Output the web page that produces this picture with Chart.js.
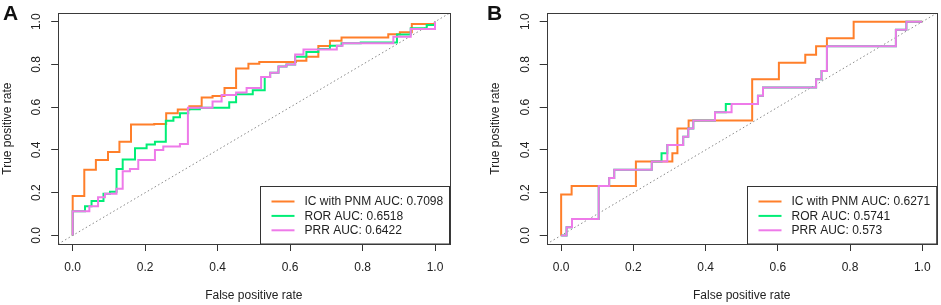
<!DOCTYPE html>
<html>
<head>
<meta charset="utf-8">
<script src="https://cdn.jsdelivr.net/npm/chart.js@4.4.1/dist/chart.umd.min.js"></script>
<style>
  body { margin: 0; background: #fff; }
  #wrap { position: relative; width: 941px; height: 305px; overflow: hidden; background: #fff; }
  canvas { position: absolute; top: 0; }
  #chartA { left: 0; }
  #chartB { left: 488px; }
  .tag { position: absolute; top: 1px; font: bold 21px "Liberation Sans", Arial, sans-serif; color: #111; }
</style>
</head>
<body>
<div id="wrap">
  <canvas id="chartA" width="470" height="305"></canvas>
  <canvas id="chartB" width="453" height="305"></canvas>
  <div class="tag" style="left:3px">A</div>
  <div class="tag" style="left:487px">B</div>
</div>
<script>
// axis setup (R style, 4% extension)
const axisMin = -0.04, axisMax = 1.04;
const tickVals = [0, 0.2, 0.4, 0.6, 0.8, 1.0];
const tickLabels = ['0.0', '0.2', '0.4', '0.6', '0.8', '1.0'];
const lineColors = ['#FF7F2A', '#00EE76', '#EE7AE9'];

// Panel A - ROC points (end of each horizontal run)
const fprA_ic  = [0, 0.032, 0.064, 0.0975, 0.129, 0.161, 0.225, 0.258, 0.290, 0.322, 0.356, 0.386, 0.419, 0.451, 0.485, 0.515, 0.616, 0.645, 0.678, 0.710, 0.742, 0.871, 0.903, 0.936, 1.0, 1.0];
const tprA_ic  = [0, 0.185, 0.307, 0.353, 0.390, 0.438, 0.519, 0.522, 0.572, 0.589, 0.605, 0.646, 0.653, 0.690, 0.781, 0.803, 0.812, 0.818, 0.836, 0.886, 0.911, 0.926, 0.941, 0.951, 0.990, 1.0];
const fprA_ror = [0, 0.034, 0.052, 0.085, 0.103, 0.121, 0.138, 0.172, 0.204, 0.227, 0.257, 0.278, 0.296, 0.319, 0.351, 0.432, 0.451, 0.497, 0.530, 0.545, 0.568, 0.590, 0.614, 0.645, 0.678, 0.710, 0.742, 0.795, 0.895, 0.933, 0.977, 1.0, 1.0];
const tprA_ror = [0, 0.113, 0.137, 0.161, 0.195, 0.205, 0.311, 0.355, 0.408, 0.426, 0.438, 0.537, 0.553, 0.572, 0.590, 0.598, 0.623, 0.661, 0.680, 0.742, 0.761, 0.791, 0.800, 0.836, 0.858, 0.873, 0.888, 0.899, 0.903, 0.940, 0.970, 0.985, 1.0];
const fprA_prr = [0, 0.046, 0.070, 0.089, 0.121, 0.138, 0.158, 0.181, 0.227, 0.250, 0.296, 0.318, 0.386, 0.411, 0.451, 0.480, 0.520, 0.545, 0.568, 0.590, 0.614, 0.637, 0.729, 0.745, 0.885, 0.933, 1.0, 1.0];
const tprA_prr = [0, 0.113, 0.137, 0.179, 0.195, 0.218, 0.300, 0.311, 0.353, 0.400, 0.416, 0.428, 0.598, 0.627, 0.657, 0.669, 0.690, 0.742, 0.761, 0.791, 0.800, 0.847, 0.870, 0.888, 0.899, 0.930, 0.966, 1.0];
const legendA = ['IC with PNM AUC: 0.7098', 'ROR AUC: 0.6518', 'PRR AUC: 0.6422'];

// Panel B
const fprB_ic  = [0, 0.029, 0.207, 0.308, 0.322, 0.353, 0.529, 0.603, 0.676, 0.706, 0.736, 0.810, 1.0];
const tprB_ic  = [0, 0.192, 0.231, 0.346, 0.385, 0.500, 0.538, 0.731, 0.808, 0.846, 0.885, 0.923, 1.0];
const fprB_ror = [0, 0.015, 0.030, 0.104, 0.133, 0.147, 0.251, 0.278, 0.294, 0.338, 0.352, 0.366, 0.426, 0.456, 0.545, 0.559, 0.706, 0.721, 0.736, 0.927, 0.956, 1.0];
const tprB_ror = [0, 0, 0.038, 0.077, 0.231, 0.269, 0.308, 0.346, 0.385, 0.423, 0.462, 0.500, 0.538, 0.577, 0.615, 0.654, 0.692, 0.731, 0.769, 0.885, 0.962, 1.0];
const fprB_prr = [0, 0.015, 0.030, 0.104, 0.133, 0.147, 0.251, 0.294, 0.338, 0.352, 0.366, 0.426, 0.472, 0.545, 0.559, 0.706, 0.721, 0.736, 0.927, 0.956, 1.0];
const tprB_prr = [0, 0, 0.038, 0.077, 0.231, 0.269, 0.308, 0.346, 0.423, 0.462, 0.500, 0.538, 0.577, 0.615, 0.654, 0.692, 0.731, 0.769, 0.885, 0.962, 1.0];
const legendB = ['IC with PNM AUC: 0.6271', 'ROR AUC: 0.5741', 'PRR AUC: 0.573'];

const fontFamily = "'Liberation Sans', Arial, sans-serif";
const font = { family: fontFamily, size: 12 };

// box around plot + R-like legend at bottom right
const frameLegend = {
  id: 'frameLegend',
  afterDatasetsDraw(chart) {
    const ctx = chart.ctx;
    const a = chart.chartArea;
    const items = chart.data.datasets.filter(d => d.label);
    ctx.save();
    ctx.font = '12px ' + fontFamily;
    let maxW = 0;
    items.forEach(d => { maxW = Math.max(maxW, ctx.measureText(d.label).width); });
    const w = 44 + maxW + 7;
    const h = 58;
    const left = Math.round(a.right - w) + 0.5;
    const top = Math.round(a.bottom - h) + 0.5;
    ctx.fillStyle = '#fff';
    ctx.fillRect(left, top, a.right - left, a.bottom - top);
    ctx.strokeStyle = '#333';
    ctx.lineWidth = 1;
    ctx.strokeRect(left, top, a.right - left, a.bottom - top);
    items.forEach((d, i) => {
      const y = top + 15 + i * 14.4;
      ctx.strokeStyle = d.borderColor;
      ctx.lineWidth = 2;
      ctx.beginPath();
      ctx.moveTo(left + 11, y);
      ctx.lineTo(left + 34, y);
      ctx.stroke();
      ctx.fillStyle = '#222';
      ctx.textBaseline = 'middle';
      ctx.textAlign = 'left';
      ctx.fillText(d.label, left + 44, y + 0.5);
    });
    // plot frame
    ctx.strokeStyle = '#3a3a3a';
    ctx.lineWidth = 1;
    ctx.strokeRect(Math.round(a.left) + 0.5, Math.round(a.top) + 0.5,
      Math.round(a.right) - Math.round(a.left), Math.round(a.bottom) - Math.round(a.top));
    ctx.restore();
  }
};

function makeChart(id, fprs, tprs, labels, yWidth, rightPad) {
  const datasets = fprs.map((fpr, i) => ({
    label: labels[i],
    data: fpr.map((x, k) => ({ x: x, y: tprs[i][k] })),
    borderColor: lineColors[i],
    borderWidth: 2,
    stepped: 'after',
    pointRadius: 0,
    fill: false,
    order: 3 - i
  }));
  // chance diagonal
  datasets.push({
    label: '',
    data: [{ x: axisMin, y: axisMin }, { x: axisMax, y: axisMax }],
    borderColor: '#888',
    borderWidth: 1,
    borderDash: [1.5, 2.5],
    pointRadius: 0,
    fill: false,
    order: 9
  });

  const axisCommon = {
    type: 'linear',
    min: axisMin,
    max: axisMax,
    afterBuildTicks: s => { s.ticks = tickVals.map(v => ({ value: v })); },
    grid: { drawOnChartArea: false, tickLength: 7, tickColor: '#333', color: '#333' },
    border: { display: false }
  };

  return new Chart(document.getElementById(id), {
    type: 'line',
    data: { datasets: datasets },
    options: {
      responsive: false,
      animation: false,
      devicePixelRatio: 1,
      layout: { padding: { top: 3, right: rightPad, left: 0, bottom: 0 } },
      plugins: { legend: { display: false }, tooltip: { enabled: false } },
      scales: {
        x: Object.assign({}, axisCommon, {
          afterFit: s => { s.height = 61; },
          ticks: { callback: (v, i) => tickLabels[i], font: font, color: '#222', padding: 9, maxRotation: 0, autoSkip: false },
          title: { display: true, text: 'False positive rate', font: font, color: '#222', padding: { top: 0, bottom: 2 } }
        }),
        y: Object.assign({}, axisCommon, {
          afterFit: s => { s.width = yWidth; },
          ticks: { callback: (v, i) => tickLabels[i], font: font, color: '#222', padding: 6, minRotation: 90, maxRotation: 90, crossAlign: 'center', autoSkip: false },
          title: { display: true, text: 'True positive rate', font: font, color: '#222', padding: { top: 0, bottom: 0 } }
        })
      }
    },
    plugins: [frameLegend]
  });
}

makeChart('chartA', [fprA_ic, fprA_ror, fprA_prr], [tprA_ic, tprA_ror, tprA_prr], legendA, 58.2, 20.5);
makeChart('chartB', [fprB_ic, fprB_ror, fprB_prr], [tprB_ic, tprB_ror, tprB_prr], legendB, 58.7, 4.3);
</script>
</body>
</html>
